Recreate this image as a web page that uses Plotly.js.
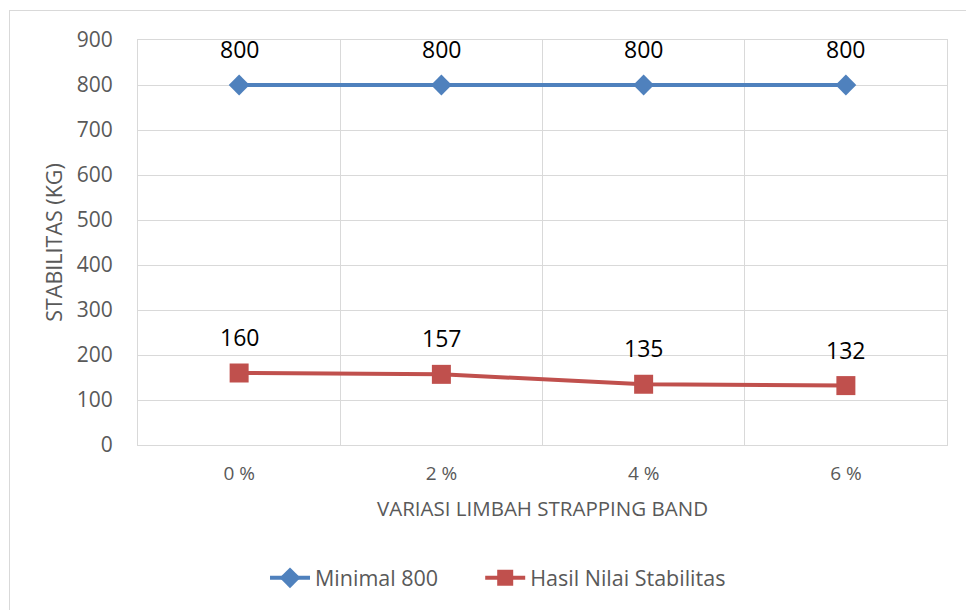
<!DOCTYPE html>
<html>
<head>
<meta charset="utf-8">
<script src="https://cdn.plot.ly/plotly-3.0.1.min.js"></script>
<style>
html,body{margin:0;padding:0;background:#fff;}
#wrap{position:relative;width:966px;height:610px;overflow:hidden;}
#chart{width:966px;height:610px;}
#frame{position:absolute;left:9px;top:10px;width:1000px;height:700px;border:1px solid #d9d9d9;pointer-events:none;}
</style>
</head>
<body>
<div id="wrap"><div id="chart"></div><div id="frame"></div></div>
<script>
const categories = ["0 %", "2 %", "4 %", "6 %"];
const minimalValues = [800, 800, 800, 800];
const hasilValues = [160, 157, 135, 132];
const seriesNames = ["Minimal 800", "Hasil Nilai Stabilitas"];
const yTicks = [0, 100, 200, 300, 400, 500, 600, 700, 800, 900];

const xIdx = categories.map((_, i) => i);
const font = "'Open Sans', Lato, sans-serif";

const traces = [
  {
    x: xIdx, y: minimalValues, name: seriesNames[0], legend: "legend",
    mode: "lines+markers",
    line: {color: "#4F81BD", width: 4},
    marker: {symbol: "diamond", size: 16, color: "#4F81BD"},
    cliponaxis: false
  },
  {
    x: xIdx, y: hasilValues, name: seriesNames[1], legend: "legend2",
    mode: "lines+markers",
    line: {color: "#C0504D", width: 4},
    marker: {symbol: "square", size: 19, color: "#C0504D"},
    cliponaxis: false
  }
];

const labelFont = {family: font, size: 23, color: "#000"};
const annotations = [];
[minimalValues, hasilValues].forEach(vals => {
  vals.forEach((v, i) => {
    annotations.push({x: xIdx[i], y: v, xref: "x", yref: "y", text: String(v),
      showarrow: false, yshift: 36, yanchor: "middle", font: labelFont});
  });
});

const legendBase = {
  orientation: "h", xanchor: "left", y: -0.328, yanchor: "middle",
  font: {family: font, size: 21.5, color: "#595959"},
  itemwidth: 40, bgcolor: "rgba(0,0,0,0)"
};

const layout = {
  width: 966, height: 610,
  margin: {l: 138, r: 19, t: 40, b: 165},
  paper_bgcolor: "#fff", plot_bgcolor: "#fff",
  showlegend: true,
  font: {family: font, color: "#595959"},
  annotations: annotations,
  xaxis: {
    range: [-0.5, categories.length - 0.5],
    tickvals: xIdx, ticktext: categories,
    showgrid: false, zeroline: false,
    ticks: "outside", ticklen: 11, tickcolor: "rgba(0,0,0,0)",
    tickfont: {family: font, size: 19, color: "#595959"},
    showline: true, mirror: true, linecolor: "#d9d9d9", linewidth: 1,
    minor: {tickvals: xIdx.map(i => i + 0.5), showgrid: true, gridcolor: "#d9d9d9", gridwidth: 1, ticks: ""},
    title: {text: "VARIASI LIMBAH STRAPPING BAND", font: {family: font, size: 20.5, color: "#595959"}, standoff: 16},
    fixedrange: true
  },
  yaxis: {
    range: [0, 900], tickvals: yTicks,
    showgrid: true, gridcolor: "#d9d9d9", gridwidth: 1, zeroline: false,
    ticks: "outside", ticklen: 20, tickcolor: "rgba(0,0,0,0)",
    tickfont: {family: font, size: 21, color: "#595959"},
    showline: true, mirror: true, linecolor: "#d9d9d9", linewidth: 1,
    title: {text: "STABILITAS (KG)", font: {family: font, size: 21.5, color: "#595959"}, standoff: 8},
    fixedrange: true
  },
  legend: Object.assign({}, legendBase, {x: 0.157}),
  legend2: Object.assign({}, legendBase, {x: 0.423})
};

Plotly.newPlot("chart", traces, layout, {displayModeBar: false, staticPlot: true});
</script>
</body>
</html>
